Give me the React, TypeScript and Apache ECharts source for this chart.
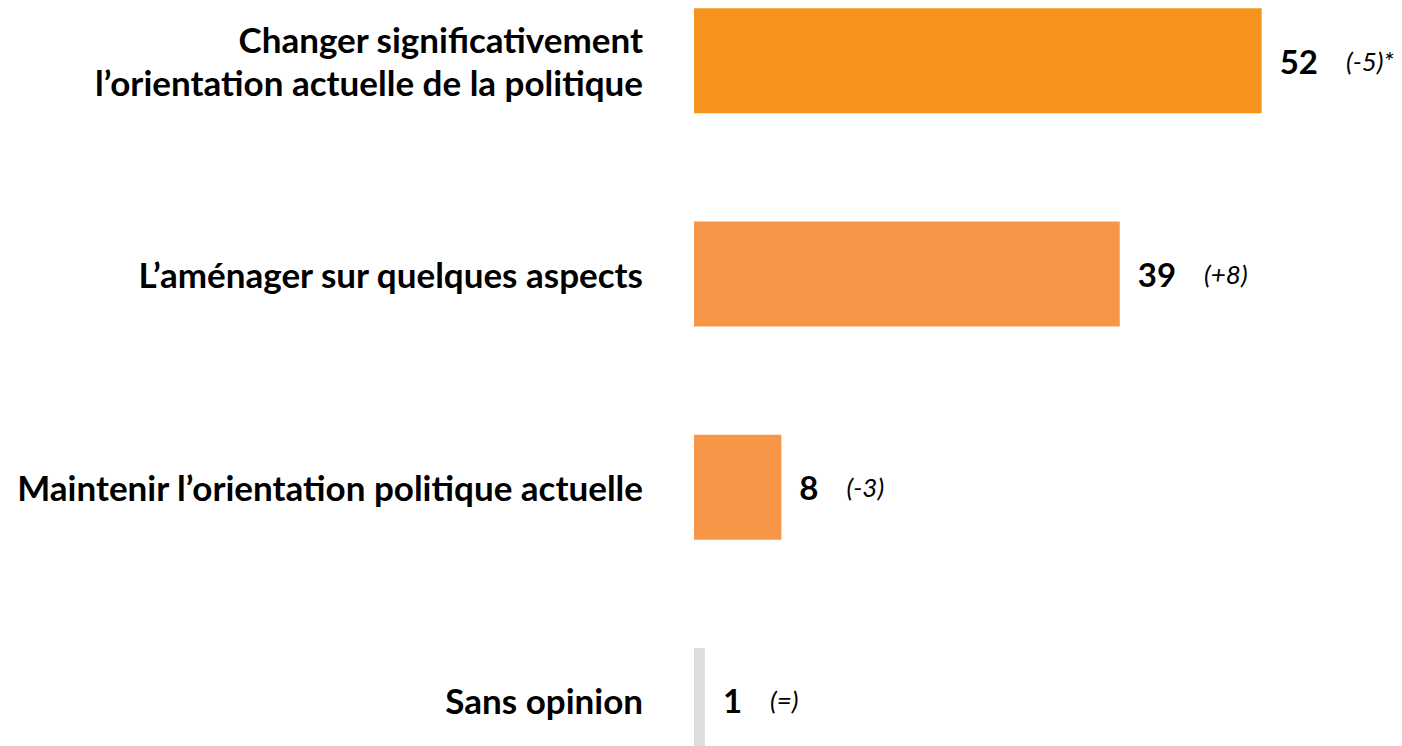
import React, { useEffect, useRef } from "react";
import * as echarts from "echarts";

const categories = [
  "Changer significativement\nl’orientation actuelle de la politique",
  "L’aménager sur quelques aspects",
  "Maintenir l’orientation politique actuelle",
  "Sans opinion",
];
const values = [52, 39, 8, 1];
const changes = ["(-5)*", "(+8)", "(-3)", "(=)"];
const colors = ["#F7941E", "#F79646", "#F79646", "#DDDDDD"];

const FONT = "Lato, 'Open Sans', sans-serif";

export default function App() {
  const ref = useRef<HTMLDivElement>(null);
  useEffect(() => {
    document.body.style.margin = "0";
    document.body.style.overflow = "hidden";
    const chart = echarts.init(ref.current!, null, { renderer: "svg" });
    chart.setOption({
      animation: false,
      grid: { left: 694, width: 655, top: 0, bottom: 0, containLabel: false },
      xAxis: {
        type: "value",
        min: 0,
        max: 60,
        show: false,
      },
      yAxis: {
        type: "category",
        inverse: true,
        data: categories,
        axisLine: { show: false },
        axisTick: { show: false },
        splitLine: { show: false },
        axisLabel: {
          margin: 51,
          fontFamily: FONT,
          fontWeight: "bold",
          fontSize: 35,
          lineHeight: 43,
          color: "#000",
          align: "right",
        },
      },
      series: [
        {
          type: "bar",
          barWidth: 105,
          data: values.map((v, i) => ({
            value: v,
            itemStyle: { color: colors[i] },
          })),
          label: {
            show: true,
            position: "right",
            distance: 18,
            formatter: (p: any) => `{v|${p.value}}{c|${changes[p.dataIndex]}}`,
            rich: {
              v: { fontFamily: FONT, fontWeight: "bold", fontSize: 33, color: "#000" },
              c: {
                fontFamily: FONT,
                fontStyle: "italic",
                fontSize: 26,
                color: "#000",
                padding: [0, 0, 0, 28],
              },
            },
          },
        },
      ],
    });
    return () => chart.dispose();
  }, []);
  return (
    <div style={{ position: "relative", width: 1402, height: 746, overflow: "hidden" }}>
      <div ref={ref} style={{ position: "absolute", left: 0, top: -46.2, width: 1402, height: 853.3 }} />
    </div>
  );
}
